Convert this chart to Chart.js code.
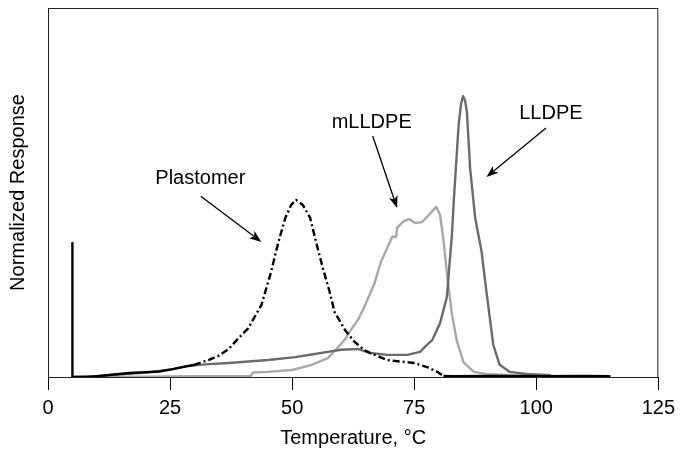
<!DOCTYPE html>
<html>
<head>
<meta charset="utf-8">
<script src="https://cdn.jsdelivr.net/npm/chart.js@4.4.1/dist/chart.umd.min.js"></script>
<style>
    html, body { margin: 0; padding: 0; background: #fff; }
    #wrap { width: 681px; height: 453px; }
</style>
</head>
<body>
<div id="wrap"><canvas id="tref"></canvas></div>
<script>
// TREF curves: temperature (°C) and normalized response
const plastomerTemp = [5, 5, 8, 10.6, 13, 16.7, 20, 22.8, 25.8, 28, 29.9, 32.9, 35, 37, 39, 41, 43.7, 45.5, 47.2, 48.6, 49.8, 50.8, 52.2, 53.7, 54.9, 56.3, 57.7, 58.7, 60.8, 62.8, 64.8, 66, 69.5, 72, 75, 77.6, 79.7, 81, 83, 90, 100, 110, 115.2];
const plastomerResp = [36.3, 0, 0, 0.3, 0.6, 1.1, 1.3, 1.5, 2.2, 2.8, 3.3, 4.6, 5.8, 7.6, 10.5, 13.2, 19.5, 27.6, 36.6, 43.1, 46.6, 48.0, 46.6, 43.1, 36.6, 29.5, 23.0, 17.6, 12.8, 9.5, 7.3, 6.5, 4.6, 4.2, 3.8, 2.7, 1.4, 0.3, 0.2, 0.3, 0.2, 0.3, 0.2];

const mlldpeTemp = [10, 20, 30, 41.5, 42, 45, 50, 54, 57.3, 59.3, 61, 62, 63.5, 64.8, 66.9, 68.1, 69.5, 70.5, 71.3, 71.5, 72.5, 73, 74, 75.2, 76.6, 78, 79.5, 80.3, 81, 81.7, 82.7, 83.7, 85.1, 87.2, 89.8, 95, 102.6];
const mlldpeResp = [0, 0.1, 0.2, 0.3, 1.2, 1.4, 1.9, 3.3, 5.1, 7.9, 10.5, 12.7, 15.5, 19, 25.5, 30.9, 35, 38, 38, 40.4, 41.8, 42.3, 42.8, 41.7, 42, 43.9, 46.1, 43.9, 37.1, 28.2, 17.3, 10, 4, 1.4, 0.8, 0.5, 0.4];

const lldpeTemp = [5, 10, 15, 20, 25, 28, 31, 33, 37, 41, 45.1, 50.6, 54, 57.3, 60, 63.4, 66, 69.5, 73.6, 76.2, 77.6, 78.7, 80.3, 81.7, 82.1, 82.7, 83.1, 84.1, 84.6, 85, 85.4, 85.8, 86.45, 87.5, 88.8, 89.8, 91.2, 92.5, 94.5, 98, 103];
const lldpeResp = [0, 0.2, 0.7, 1.2, 2, 2.8, 3.3, 3.5, 3.8, 4.2, 4.6, 5.4, 6.1, 6.8, 7.4, 7.6, 6.5, 6, 6, 6.8, 8.7, 10, 14.6, 21.7, 28.5, 38, 47.5, 68.3, 74, 76.1, 75, 71.9, 56.6, 43, 34, 23.1, 8.7, 3.3, 1.4, 0.8, 0.5];

const xTicks = [0, 25, 50, 75, 100, 125];

// labels with arrows, in data units
const callouts = [
    { text: "Plastomer", tx: 31.2, ty: 52.3, from: [31.3, 49.0], to: [43.7, 36.6] },
    { text: "mLLDPE", tx: 66.3, ty: 67.5, from: [66.5, 65.3], to: [71.5, 45.8] },
    { text: "LLDPE", tx: 103.0, ty: 69.9, from: [102.0, 67.5], to: [89.8, 54.2] }
];

const FONT = "'Liberation Sans', Arial, Helvetica, sans-serif";

function toPoints(xs, ys) {
    return xs.map((x, i) => ({ x: x, y: ys[i] }));
}

// dash-dot only on the plastomer peak, solid spike and baseline
function plastomerDash(ctx) {
    const a = ctx.p0.parsed.x, b = ctx.p1.parsed.x;
    if (a >= 29.9 && b <= 81) return [7, 3, 2, 3];
    return undefined;
}

const framePlugin = {
    id: "frame",
    afterDatasetsDraw(chart) {
        const { ctx, chartArea: a, scales } = chart;
        ctx.save();
        // box round the plot
        ctx.strokeStyle = "#222";
        ctx.lineWidth = 1;
        ctx.strokeRect(a.left + 0.5, a.top + 0.5, a.right - a.left - 1, a.bottom - a.top);

        // callouts
        ctx.fillStyle = "#000";
        ctx.strokeStyle = "#000";
        ctx.font = "20px " + FONT;
        ctx.textAlign = "center";
        ctx.textBaseline = "alphabetic";
        callouts.forEach(c => {
            const x = scales.x.getPixelForValue(c.tx);
            const y = scales.y.getPixelForValue(c.ty);
            ctx.fillText(c.text, x, y);

            const x0 = scales.x.getPixelForValue(c.from[0]);
            const y0 = scales.y.getPixelForValue(c.from[1]);
            const x1 = scales.x.getPixelForValue(c.to[0]);
            const y1 = scales.y.getPixelForValue(c.to[1]);
            const ang = Math.atan2(y1 - y0, x1 - x0);
            const len = 12, half = 4.5;
            const bx = x1 - len * Math.cos(ang), by = y1 - len * Math.sin(ang);

            ctx.lineWidth = 1.3;
            ctx.beginPath();
            ctx.moveTo(x0, y0);
            ctx.lineTo(bx + 3 * Math.cos(ang), by + 3 * Math.sin(ang));
            ctx.stroke();

            ctx.beginPath();
            ctx.moveTo(x1, y1);
            ctx.lineTo(bx - half * Math.sin(ang), by + half * Math.cos(ang));
            ctx.lineTo(bx + 3 * Math.cos(ang), by + 3 * Math.sin(ang));
            ctx.lineTo(bx + half * Math.sin(ang), by - half * Math.cos(ang));
            ctx.closePath();
            ctx.fill();
        });
        ctx.restore();
    }
};

new Chart(document.getElementById("tref"), {
    type: "line",
    data: {
        datasets: [
            {
                label: "Plastomer",
                data: toPoints(plastomerTemp, plastomerResp),
                borderColor: "#000",
                borderWidth: 2.4,
                segment: { borderDash: plastomerDash },
                order: 0
            },
            {
                label: "LLDPE",
                data: toPoints(lldpeTemp, lldpeResp),
                borderColor: "#6b6b6b",
                borderWidth: 2.4,
                order: 1
            },
            {
                label: "mLLDPE",
                data: toPoints(mlldpeTemp, mlldpeResp),
                borderColor: "#a8a8a8",
                borderWidth: 2.4,
                order: 2
            }
        ]
    },
    options: {
        responsive: true,
        maintainAspectRatio: false,
        animation: false,
        events: [],
        layout: { padding: { top: 8, right: 18, left: 0, bottom: 0 } },
        elements: {
            point: { radius: 0 },
            line: { tension: 0, borderCapStyle: "butt", borderJoinStyle: "round" }
        },
        plugins: {
            legend: { display: false },
            tooltip: { enabled: false }
        },
        scales: {
            x: {
                type: "linear",
                min: 0,
                max: 125,
                afterBuildTicks: s => { s.ticks = xTicks.map(v => ({ value: v })); },
                afterFit: s => { s.height = 76; },
                grid: { drawOnChartArea: false, tickLength: 13, color: "#000", lineWidth: 1 },
                border: { color: "#000", width: 1 },
                ticks: { color: "#000", padding: 6, font: { family: FONT, size: 20 }, maxRotation: 0 },
                title: {
                    display: true,
                    text: "Temperature, °C",
                    color: "#000",
                    font: { family: FONT, size: 20 },
                    padding: { top: 0, bottom: 3 }
                }
            },
            y: {
                min: 0,
                max: 100,
                afterFit: s => { s.width = 48; },
                grid: { display: false },
                border: { color: "#222", width: 1 },
                ticks: { display: false },
                title: {
                    display: true,
                    text: "Normalized Response",
                    color: "#000",
                    font: { family: FONT, size: 20 },
                    padding: { top: 6, bottom: 0 }
                }
            }
        }
    },
    plugins: [framePlugin]
});
</script>
</body>
</html>
